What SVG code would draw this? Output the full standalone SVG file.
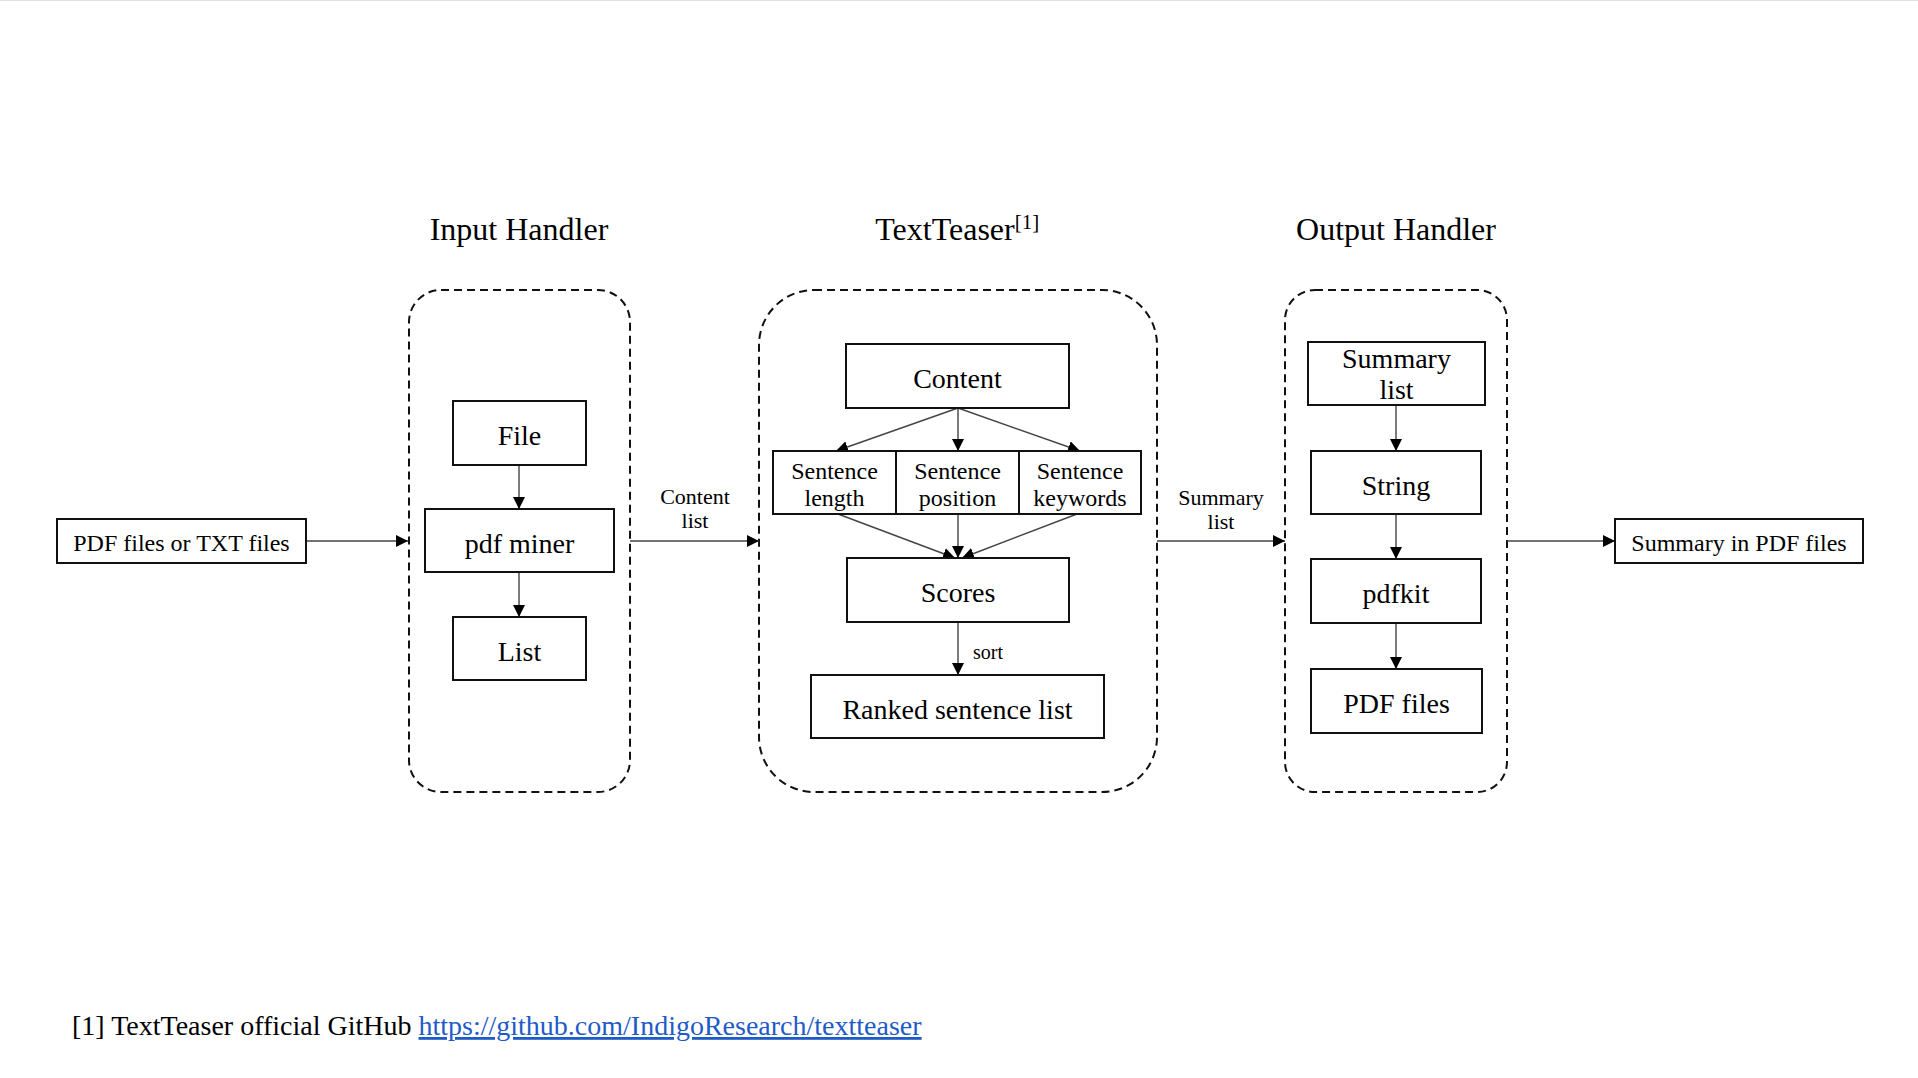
<svg xmlns="http://www.w3.org/2000/svg" width="1918" height="1078" viewBox="0 0 1918 1078">
<style>
text{font-family:"Liberation Serif","Times New Roman",serif;fill:#000;text-anchor:middle}
.title{font-size:32px}
.node{fill:#fff;stroke:#111;stroke-width:2}
.nt{font-size:28px}
.st{font-size:24px}
.lbl{font-size:22px}
.cont{fill:none;stroke:#111;stroke-width:2;stroke-dasharray:8 5}
.edge{fill:none;stroke:#444;stroke-width:1.4;marker-end:url(#ah)}
</style>
<defs>
<marker id="ah" viewBox="0 0 12 12" refX="12" refY="6" markerWidth="12" markerHeight="12" orient="auto" markerUnits="userSpaceOnUse"><path d="M0,0 L12,6 L0,12 z" fill="#000"/></marker>
</defs>
<rect width="1918" height="1078" fill="#fff"/>
<line x1="0" y1="0.5" x2="1918" y2="0.5" stroke="#e0e0e0" stroke-width="1"/>

<g id="titles">
<text class="title" x="519" y="240">Input Handler</text>
<text class="title" x="945" y="240">TextTeaser</text>
<text x="1027" y="229" style="font-size:21px">[1]</text>
<text class="title" x="1396" y="240">Output Handler</text>
</g>

<g id="containers">
<rect id="input-handler" class="cont" x="409" y="290" width="221" height="502" rx="32"/>
<rect id="textteaser" class="cont" x="759" y="290" width="398" height="502" rx="55"/>
<rect id="output-handler" class="cont" x="1285" y="290" width="222" height="502" rx="30"/>
</g>

<g id="connectors">
<path class="edge" d="M306,541 H408"/>
<path class="edge" d="M630,541 H759"/>
<path class="edge" d="M1157,541 H1285"/>
<path class="edge" d="M1507,541 H1615"/>
<path class="edge" d="M519,465 V509"/>
<path class="edge" d="M519,572 V617"/>
<path class="edge" d="M958,408 L836,451"/>
<path class="edge" d="M958,408 V451"/>
<path class="edge" d="M958,408 L1080,451"/>
<path class="edge" d="M838,514 L955,558"/>
<path class="edge" d="M958,514 V558"/>
<path class="edge" d="M1077,514 L962,558"/>
<path class="edge" d="M958,622 V675"/>
<path class="edge" d="M1396,405 V451"/>
<path class="edge" d="M1396,514 V559"/>
<path class="edge" d="M1396,623 V669"/>
<text class="lbl" x="695" y="504">Content</text>
<text class="lbl" x="695" y="528">list</text>
<text class="lbl" x="1221" y="505">Summary</text>
<text class="lbl" x="1221" y="529">list</text>
<text x="988" y="659" style="font-size:20px">sort</text>
</g>

<g id="pdf-input"><rect class="node" x="57" y="519" width="249" height="44"/><text class="st" x="181.5" y="551">PDF files or TXT files</text></g>
<g id="file"><rect class="node" x="453" y="401" width="133" height="64"/><text class="nt" x="519.5" y="445">File</text></g>
<g id="pdf-miner"><rect class="node" x="425" y="509" width="189" height="63"/><text class="nt" x="519.5" y="553">pdf miner</text></g>
<g id="list"><rect class="node" x="453" y="617" width="133" height="63"/><text class="nt" x="519.5" y="661">List</text></g>

<g id="content"><rect class="node" x="846" y="344" width="223" height="64"/><text class="nt" x="957.5" y="388">Content</text></g>
<g id="sentence-length"><rect class="node" x="773" y="451" width="123" height="63"/><text class="st" x="834.5" y="479">Sentence</text><text class="st" x="834.5" y="506">length</text></g>
<g id="sentence-position"><rect class="node" x="896" y="451" width="123" height="63"/><text class="st" x="957.5" y="479">Sentence</text><text class="st" x="957.5" y="506">position</text></g>
<g id="sentence-keywords"><rect class="node" x="1019" y="451" width="122" height="63"/><text class="st" x="1080" y="479">Sentence</text><text class="st" x="1080" y="506">keywords</text></g>
<g id="scores"><rect class="node" x="847" y="558" width="222" height="64"/><text class="nt" x="958" y="602">Scores</text></g>
<g id="ranked"><rect class="node" x="811" y="675" width="293" height="63"/><text class="nt" x="957.5" y="719">Ranked sentence list</text></g>

<g id="summary-list"><rect class="node" x="1308" y="342" width="177" height="63"/><text class="nt" x="1396.5" y="368">Summary</text><text class="nt" x="1396.5" y="399">list</text></g>
<g id="string"><rect class="node" x="1311" y="451" width="170" height="63"/><text class="nt" x="1396" y="495">String</text></g>
<g id="pdfkit"><rect class="node" x="1311" y="559" width="170" height="64"/><text class="nt" x="1396" y="603">pdfkit</text></g>
<g id="pdf-files"><rect class="node" x="1311" y="669" width="171" height="64"/><text class="nt" x="1396.5" y="713">PDF files</text></g>
<g id="pdf-output"><rect class="node" x="1615" y="519" width="248" height="44"/><text class="st" x="1739" y="551">Summary in PDF files</text></g>

<g id="footnote">
<text x="72" y="1035" style="font-size:28px;text-anchor:start">[1] TextTeaser official GitHub <tspan text-decoration="underline" style="fill:#1F5BC7">https://github.com/IndigoResearch/textteaser</tspan></text>
</g>
</svg>
